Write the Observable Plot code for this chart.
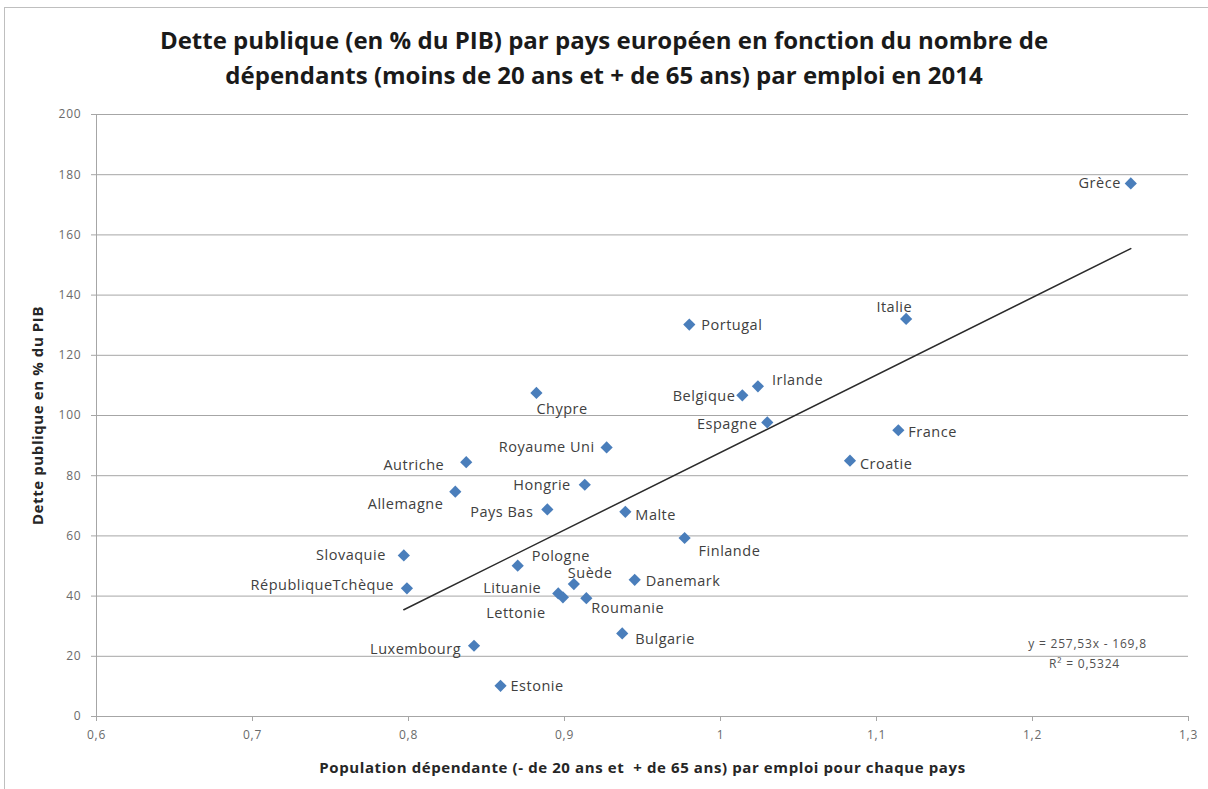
<!DOCTYPE html>
<html>
<head>
<meta charset="utf-8">
<script src="https://cdn.jsdelivr.net/npm/d3@7"></script>
<script src="https://cdn.jsdelivr.net/npm/@observablehq/plot@0.6"></script>
<style>
  html, body { margin: 0; padding: 0; background: #fff; }
  #frame { position: absolute; left: 4px; top: 7px; width: 1204px; height: 782px; border-top: 1px solid #bfbfbf; border-left: 1px solid #bfbfbf; }
  #title { position: absolute; left: 0; top: 22px; width: 1208px; text-align: center; font-family: "Open Sans", sans-serif; font-weight: bold; font-size: 24px; line-height: 35px; color: #1a1a1a; }
  #chart { position: absolute; left: 0; top: 100px; }
</style>
</head>
<body>
<div id="frame"></div>
<div id="title">Dette publique (en % du PIB) par pays européen en fonction du nombre de<br>dépendants (moins de 20 ans et + de 65 ans) par emploi en 2014</div>
<div id="chart"></div>
<script>
// ---- Data ----
const countries = ["Grèce","Italie","Portugal","Irlande","Belgique","Espagne","France","Croatie","Chypre","Royaume Uni","Autriche","Hongrie","Allemagne","Pays Bas","Malte","Finlande","Slovaquie","Pologne","RépubliqueTchèque","Suède","Danemark","Lituanie","Lettonie","Roumanie","Bulgarie","Luxembourg","Estonie"];
const dependants = [1.263,1.119,0.980,1.024,1.014,1.030,1.114,1.083,0.882,0.927,0.837,0.913,0.830,0.889,0.939,0.977,0.797,0.870,0.799,0.906,0.945,0.896,0.899,0.914,0.937,0.842,0.859];
const debt = [177.1,132.1,130.2,109.7,106.7,97.7,95.1,85.0,107.5,89.4,84.5,77.0,74.7,68.8,68.0,59.3,53.5,50.1,42.6,44.0,45.4,40.9,39.6,39.3,27.6,23.5,10.2];
const xTicks = [0.6,0.7,0.8,0.9,1.0,1.1,1.2,1.3];
const yTicks = [0,20,40,60,80,100,120,140,160,180,200];
const slope = 257.53, intercept = -169.8, r2 = "0,5324";
const xTitle = "Population dépendante (- de 20 ans et  + de 65 ans) par emploi pour chaque pays";
const yTitle = "Dette publique en % du PIB";

// label placement (style only)
const labelPlace = {
  "Grèce": [-10,0,"end"], "Italie": [6,-12,"end"], "Portugal": [12,1,"start"], "Irlande": [14,-6,"start"],
  "Belgique": [-7,1,"end"], "Espagne": [-10,2,"end"], "France": [10,2,"start"], "Croatie": [10,4,"start"],
  "Chypre": [0,16,"start"], "Royaume Uni": [-12,0,"end"], "Autriche": [-22,3,"end"], "Hongrie": [-14,1,"end"],
  "Allemagne": [-12,13,"end"], "Pays Bas": [-14,3,"end"], "Malte": [10,4,"start"], "Finlande": [14,13,"start"],
  "Slovaquie": [-18,0,"end"], "Pologne": [14,-9,"start"], "RépubliqueTchèque": [-13,-3,"end"], "Suède": [-6,-11,"start"],
  "Danemark": [11,2,"start"], "Lituanie": [-17,-5,"end"], "Lettonie": [-47,16,"middle"], "Roumanie": [5,10,"start"],
  "Bulgarie": [13,6,"start"], "Luxembourg": [-13,4,"end"], "Estonie": [10,1,"start"]
};

const data = countries.map((name, i) => ({name, x: dependants[i], y: debt[i]}));
const [xmin, xmax] = d3.extent(dependants);
const trend = [xmin, xmax].map(x => ({x, y: slope * x + intercept}));
const fr = d => String(+(+d).toFixed(2)).replace(".", ",");

const labelMarks = data.map(d => {
  const [dx, dy, anchor] = labelPlace[d.name];
  return Plot.text([d], {x: "x", y: "y", text: "name", dx, dy, textAnchor: anchor, fill: "#404040", fontSize: 14.5, className: "clabel"});
});

const chart = Plot.plot({
  width: 1208,
  height: 689,
  marginLeft: 96,
  marginRight: 20,
  marginTop: 14,
  marginBottom: 73,
  style: {fontFamily: "'Open Sans', sans-serif", fontSize: "12px", color: "#595959", background: "transparent"},
  x: {domain: [0.6, 1.3]},
  y: {domain: [0, 200]},
  marks: [
    Plot.gridY(yTicks, {stroke: "#a6a6a6", strokeOpacity: 1, strokeWidth: 1}),
    Plot.ruleX([0.6], {stroke: "#a6a6a6"}),
    Plot.ruleY([0], {stroke: "#a6a6a6"}),
    Plot.axisX({ticks: xTicks, tickFormat: fr, stroke: "#a6a6a6", tickSize: 5, tickPadding: 9, fill: "#6a6a6a", fontSize: 12,
      label: xTitle, labelAnchor: "center", labelOffset: 56, className: "tk"}),
    Plot.axisY({ticks: yTicks, stroke: "#a6a6a6", tickSize: 5, tickPadding: 10, fill: "#6a6a6a", fontSize: 12,
      label: yTitle, labelAnchor: "center", labelOffset: 64, className: "tk"}),
    Plot.line(trend, {x: "x", y: "y", stroke: "#2b2b2b", strokeWidth: 1.5}),
    Plot.dot(data, {x: "x", y: "y", symbol: "diamond2", r: 5.5, fill: "#4a7ebb", stroke: "none"}),
    ...labelMarks,
    Plot.text([`y = ${fr(slope)}x - ${fr(-intercept)}`], {frameAnchor: "bottom-right", dx: -101, dy: -69, text: d => d, textAnchor: "middle", fill: "#505050", fontSize: 12, className: "eq"}),
    Plot.text([`R² = ${r2}`], {frameAnchor: "bottom-right", dx: -104, dy: -49, text: d => d, textAnchor: "middle", fill: "#505050", fontSize: 12, className: "eq"})
  ]
});

// tidy axis labels: remove arrows, bold
chart.querySelectorAll('[aria-label="x-axis label"] text, [aria-label="y-axis label"] text').forEach(t => {
  t.textContent = t.textContent.replace(/\s*[→↑←↓]\s*/g, "");
  t.setAttribute("font-weight", "bold");
  t.setAttribute("font-size", "15px");
  t.setAttribute("letter-spacing", "0.6px");
  t.setAttribute("fill", "#262626");
});
chart.querySelectorAll('[aria-label="x-axis tick label"] text, [aria-label="y-axis tick label"] text, .eq text').forEach(t => {
  t.setAttribute("letter-spacing", "0.8px");
});
chart.querySelectorAll('.clabel text').forEach(t => t.setAttribute("letter-spacing", "0.5px"));
document.getElementById("chart").appendChild(chart);
</script>
</body>
</html>
